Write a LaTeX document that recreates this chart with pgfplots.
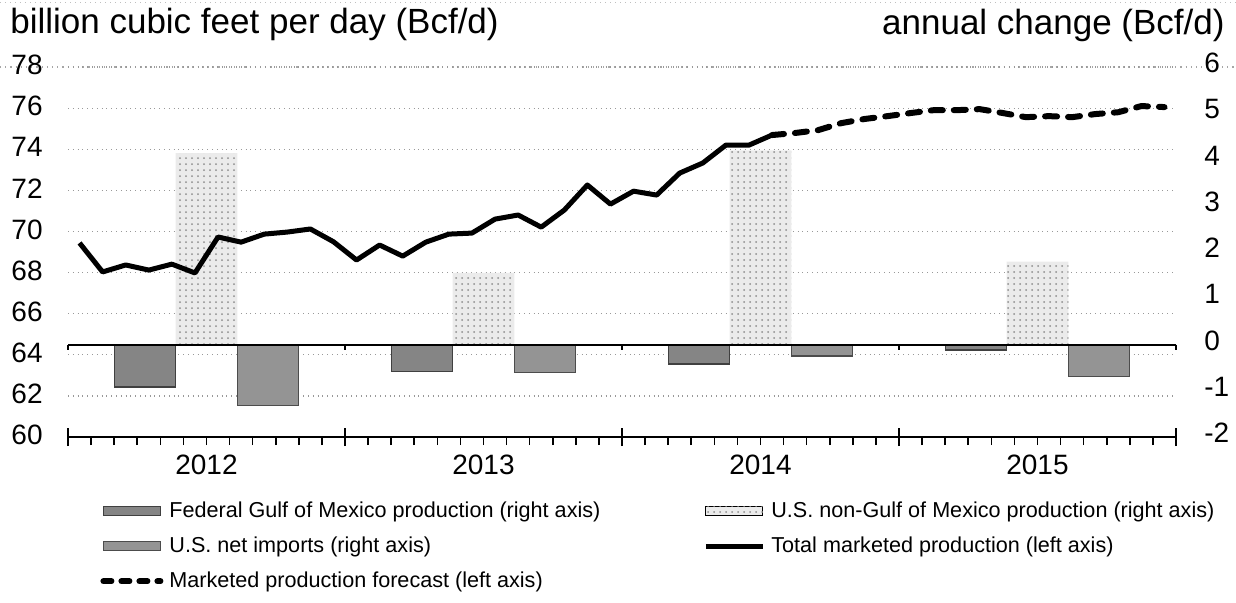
\documentclass[border=0pt]{standalone}
\usepackage{fontspec}
\setmainfont{Liberation Sans}
\usepackage{pgfplots}
\pgfplotsset{compat=1.18}
\usetikzlibrary{patterns}

\definecolor{gomfill}{gray}{0.52}
\definecolor{netfill}{gray}{0.58}
\definecolor{lightfill}{gray}{0.92}

\pgfplotsset{
  base/.style={scale only axis, width=554pt, height=185pt, xmin=0, xmax=48, clip=false},
  barleg/.style={legend image code/.code={\draw[##1] (0pt,-2.3pt) rectangle (28.5pt,2.3pt);}},
  lineleg/.style={legend image code/.code={\draw[##1] (0pt,0pt) -- (28.5pt,0pt);}},
}
\newcommand{\tickfont}{\fontsize{14}{16}\selectfont}
\newcommand{\titlefont}{\fontsize{17.5}{19}\selectfont}
\newcommand{\legfont}{\fontsize{10.8}{13}\selectfont}

\begin{document}
\begin{tikzpicture}
% frame-like dotted lines of the original
\draw[black!35, dotted, line width=0.6pt] (-34pt,185pt) -- (584pt,185pt);
\draw[black!25, dotted, line width=0.5pt] (-34pt,217.5pt) -- (584pt,217.5pt);
% ---------- left axis: grid, ticks, labels, legend ----------
\begin{axis}[base,
  ymin=60, ymax=78,
  ytick={60,62,64,66,68,70,72,74,76,78},
  yticklabels={60,62,64,66,68,70,72,74,76,78},
  ymajorgrids,
  major grid style={black!40, dotted, line width=0.6pt},
  axis x line*=bottom, axis y line*=left,
  y axis line style={draw=none},
  ytick style={draw=none},
  yticklabel style={font=\tickfont, inner sep=0pt, anchor=east, xshift=-12.5pt, yshift=1pt},
  x axis line style={line width=1pt, -},
  xtick={0,12,24,36,48}, xticklabels={},
  xtick align=center, major tick length=9pt,
  xtick style={black, line width=0.8pt},
  minor xtick={1,2,3,4,5,6,7,8,9,10,11,13,14,15,16,17,18,19,20,21,22,23,25,26,27,28,29,30,31,32,33,34,35,37,38,39,40,41,42,43,44,45,46,47},
  minor tick length=4pt,
  minor tick style={line width=0.6pt, yshift=-2pt},
  extra x ticks={6,18,30,42},
  extra x tick labels={2012,2013,2014,2015},
  extra x tick style={major tick length=0pt, tick style={draw=none},
     xticklabel style={font=\tickfont, yshift=-5.5pt}},
  legend columns=2,
  legend cell align=left,
  legend style={at={(0.0289,-0.1704)}, anchor=north west, draw=none, fill=none,
     inner sep=0pt, font=\legfont, row sep=6.7pt,
     nodes={inner sep=0pt, text height=8.3pt, text depth=2.5pt},
     /tikz/column 1/.style={column sep=3pt},
     /tikz/column 2/.style={column sep=51.5pt},
     /tikz/column 3/.style={column sep=3pt}},
]
\addlegendimage{barleg, fill=gomfill, draw=black!75}
\addlegendentry{Federal Gulf of Mexico production (right axis)}
\addlegendimage{barleg, fill=lightfill, draw=none, postaction={pattern=dots, pattern color=black!45}}
\addlegendentry{U.S. non-Gulf of Mexico production (right axis)}
\addlegendimage{barleg, fill=netfill, draw=black!70}
\addlegendentry{U.S. net imports (right axis)}
\addlegendimage{lineleg, black, line width=2.5pt}
\addlegendentry{Total marketed production (left axis)}
\addlegendimage{lineleg, black, line width=3pt, line cap=round, dash pattern=on 4pt off 5pt}
\addlegendentry{Marketed production forecast (left axis)}
\end{axis}

% ---------- right axis: bars ----------
\begin{axis}[base,
  ymin=-2, ymax=6,
  ytick={-2,-1,0,1,2,3,4,5,6},
  yticklabels={-2,-1,0,1,2,3,4,5,6},
  axis x line=none, axis y line*=right,
  y axis line style={draw=none},
  ytick style={draw=none},
  yticklabel style={font=\tickfont, inner sep=0pt, anchor=west, xshift=14pt, yshift=2pt},
]
\addplot[ybar, bar width=2.6667, bar shift=0pt, fill=gomfill, draw=black!75, line width=0.6pt, forget plot]
  coordinates {(3.3333,-0.92) (15.3333,-0.59) (27.3333,-0.42) (39.3333,-0.12)};
\addplot[ybar, bar width=2.6667, bar shift=0pt, fill=lightfill, draw=none,
  postaction={pattern=dots, pattern color=black!45}, forget plot]
  coordinates {(6,4.14) (18,1.55) (30,4.2) (42,1.79)};
\addplot[ybar, bar width=2.6667, bar shift=0pt, fill=netfill, draw=black!70, line width=0.6pt, forget plot]
  coordinates {(8.6667,-1.32) (20.6667,-0.6) (32.6667,-0.25) (44.6667,-0.7)};
\draw[line width=1pt] (axis cs:0,0) -- (axis cs:48,0);
\draw[line width=0.8pt] (axis cs:0,0) -- (axis cs:0,-0.11);
\draw[line width=0.8pt] (axis cs:12,0) -- (axis cs:12,-0.11);
\draw[line width=0.8pt] (axis cs:24,0) -- (axis cs:24,-0.11);
\draw[line width=0.8pt] (axis cs:36,0) -- (axis cs:36,-0.11);
\draw[line width=0.8pt] (axis cs:48,0) -- (axis cs:48,-0.11);
\end{axis}

% ---------- left axis: production lines ----------
\begin{axis}[base, ymin=60, ymax=78, hide axis]
\addplot[black, line width=2.5pt, line join=round, forget plot] coordinates {
 (0.5,69.44) (1.5,68.03) (2.5,68.37) (3.5,68.12) (4.5,68.41) (5.5,67.98)
 (6.5,69.73) (7.5,69.48) (8.5,69.87) (9.5,69.97) (10.5,70.12) (11.5,69.5)
 (12.5,68.61) (13.5,69.34) (14.5,68.8) (15.5,69.48) (16.5,69.87) (17.5,69.92)
 (18.5,70.6) (19.5,70.8) (20.5,70.21) (21.5,71.04) (22.5,72.26) (23.5,71.33)
 (24.5,71.96) (25.5,71.77) (26.5,72.84) (27.5,73.33) (28.5,74.2) (29.5,74.2)
 (30.5,74.69)};
\addplot[black, line width=3pt, line cap=round, dash pattern=on 6pt off 5.5pt, forget plot] coordinates {
 (30.5,74.69) (31.5,74.79) (32.5,74.93) (33.5,75.27) (34.5,75.47) (35.5,75.61)
 (36.5,75.76) (37.5,75.9) (38.5,75.9) (39.5,75.95) (40.5,75.76) (41.5,75.56)
 (42.5,75.61) (43.5,75.56) (44.5,75.71) (45.5,75.8) (46.5,76.1) (47.5,76.05)};
\end{axis}

\node[anchor=base west, font=\titlefont, inner sep=0pt] at (-29pt,202pt) {billion cubic feet per day (Bcf/d)};
\node[anchor=base east, font=\titlefont, inner sep=0pt] at (578.5pt,201.5pt) {annual change (Bcf/d)};

\pgfresetboundingbox
\path[use as bounding box] (-34pt,-82.5pt) rectangle (584pt,218.5pt);
\end{tikzpicture}
\end{document}
